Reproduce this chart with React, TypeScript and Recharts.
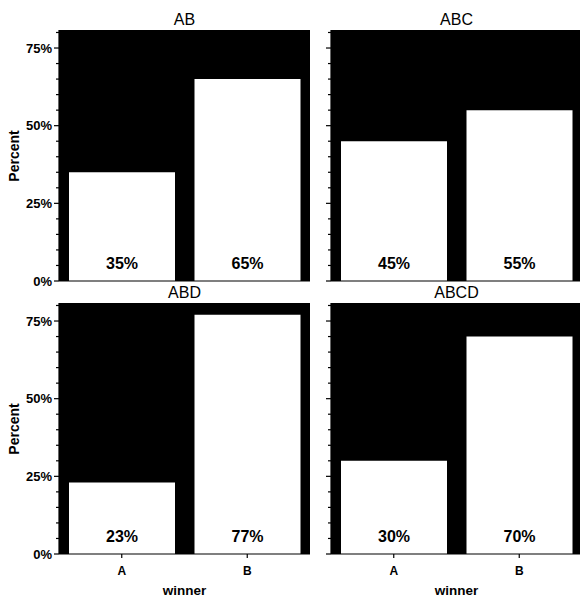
import React from 'react';
import { BarChart, Bar, XAxis, YAxis, CartesianGrid, LabelList } from 'recharts';

const FONT = "'Liberation Sans', Arial, sans-serif";

const winners = ['A', 'B'];
const AB = [35, 65];
const ABC = [45, 55];
const ABD = [23, 77];
const ABCD = [30, 70];
const yTicks = [0, 5, 10, 15, 20, 25, 30, 35, 40, 45, 50, 55, 60, 65, 70, 75, 80];

const toRows = (vals: number[]) => winners.map((w, i) => ({ winner: w, pct: vals[i] }));

function yTick(showLabel: boolean) {
  return (props: any) => {
    const { x, y, payload } = props;
    const major = payload.value % 25 === 0;
    return (
      <g>
        <line x1={x} x2={x - (major ? 5 : 3)} y1={y} y2={y} stroke="#000" strokeWidth={1.2} />
        {major && showLabel && (
          <text x={x - 7} y={y} dy="0.36em" textAnchor="end" fontSize={13} fontWeight="bold" fontFamily={FONT} fill="#000">
            {payload.value}%
          </text>
        )}
      </g>
    );
  };
}

function BarLabel(props: any) {
  const { x, y, width, height, value } = props;
  return (
    <text x={x + width / 2} y={y + height - 12} textAnchor="middle" fontSize={16} fontWeight="bold" fontFamily={FONT} fill="#000">
      {value}%
    </text>
  );
}

function Panel({ title, vals, left, top, showY, showX }: { title: string; vals: number[]; left: number; top: number; showY: boolean; showX: boolean }) {
  const yw = showY ? 59 : 51;
  const xh = showX ? 42 : 19;
  return (
    <div style={{ position: 'absolute', left, top }}>
      <div style={{ position: 'absolute', left: yw, top: 10.5, width: 251, textAlign: 'center', fontSize: 16, fontFamily: FONT, lineHeight: '18px' }}>
        {title}
      </div>
      <BarChart width={yw + 251 + 10} height={30 + 251 + xh} data={toRows(vals)} margin={{ top: 30, right: 10, bottom: 0, left: 0 }} barCategoryGap={10}>
        <CartesianGrid horizontal={false} vertical={false} fill="#000" fillOpacity={1} />
        <XAxis
          dataKey="winner"
          height={xh}
          axisLine={{ stroke: '#000', strokeWidth: 1.2 }}
          tickLine={{ stroke: '#000', strokeWidth: 1.2 }}
          tickSize={4}
          tickMargin={8}
          tick={showX ? { fontSize: 12, fontWeight: 'bold', fontFamily: FONT, fill: '#000' } : false}
        />
        <YAxis
          width={yw}
          domain={[0, 80.8]}
          ticks={yTicks}
          interval={0}
          tickSize={0}
          tickMargin={0}
          tickLine={false}
          axisLine={{ stroke: '#000', strokeWidth: 1.2 }}
          tick={yTick(showY)}
        />
        <Bar dataKey="pct" fill="#fff" isAnimationActive={false}>
          <LabelList dataKey="pct" content={BarLabel} />
        </Bar>
      </BarChart>
      {showY && (
        <div style={{ position: 'absolute', left: 14, top: 155.5, transform: 'translate(-50%, -50%) rotate(-90deg)', fontSize: 14, fontWeight: 'bold', fontFamily: FONT, whiteSpace: 'nowrap' }}>
          Percent
        </div>
      )}
      {showX && (
        <div style={{ position: 'absolute', left: yw, top: 309.5, width: 251, textAlign: 'center', fontSize: 13.5, fontWeight: 'bold', fontFamily: FONT, lineHeight: '16px' }}>
          winner
        </div>
      )}
    </div>
  );
}

export default function App() {
  return (
    <div style={{ position: 'absolute', left: 0, top: 0, width: 580, height: 596, overflow: 'hidden', background: '#fff' }}>
      <Panel title="AB" vals={AB} left={0} top={0} showY showX={false} />
      <Panel title="ABC" vals={ABC} left={280} top={0} showY={false} showX={false} />
      <Panel title="ABD" vals={ABD} left={0} top={273} showY showX />
      <Panel title="ABCD" vals={ABCD} left={280} top={273} showY={false} showX />
    </div>
  );
}
